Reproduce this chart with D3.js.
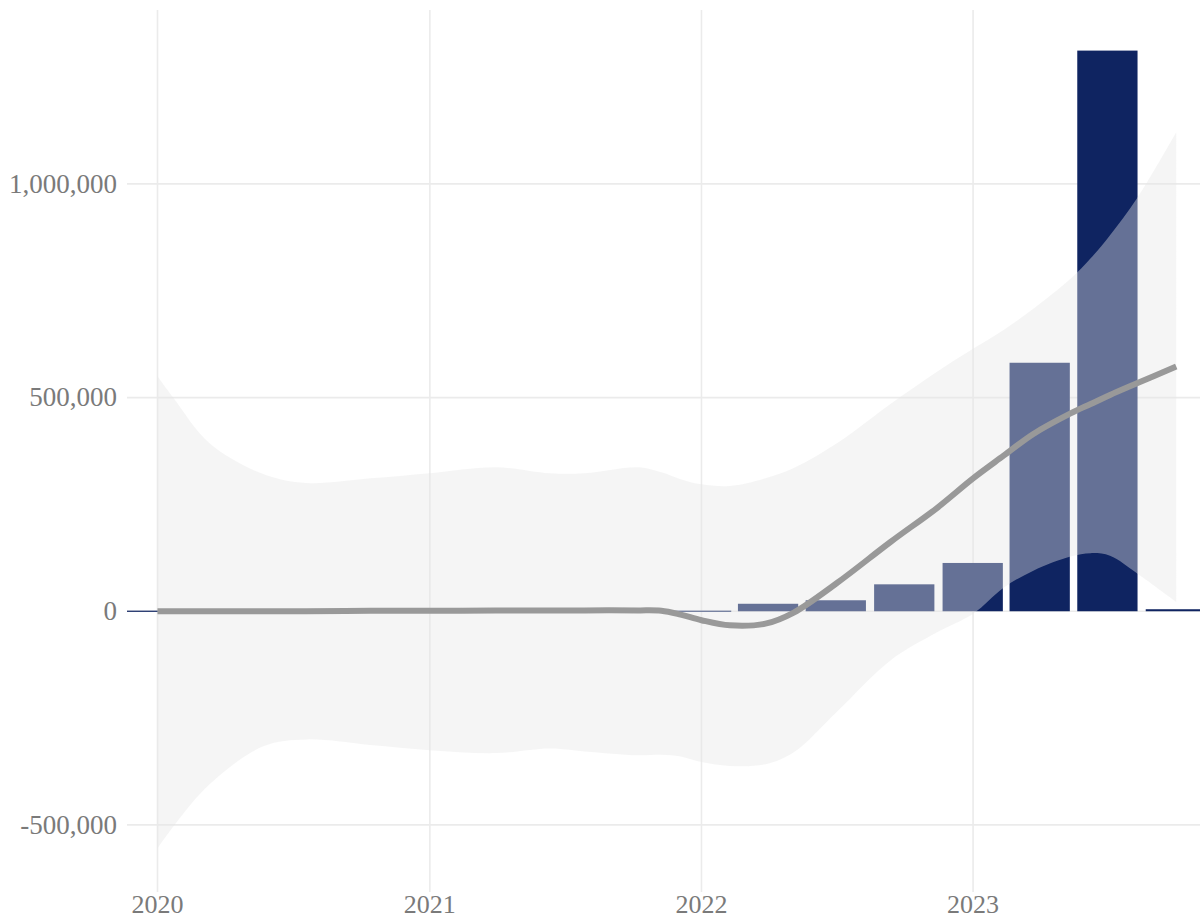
<!DOCTYPE html>
<html>
<head>
<meta charset="utf-8">
<script src="https://cdn.jsdelivr.net/npm/d3@7"></script>
<style>
  body { margin: 0; background: #ffffff; }
  text { font-family: "Liberation Serif", "DejaVu Serif", serif; fill: #7a7a7a; }
</style>
</head>
<body>
<div id="chart"></div>
<script>
// Quarterly totals (bars)
var quarters = ["2020-01-01", "2020-04-01", "2020-07-01", "2020-10-01",
  "2021-01-01", "2021-04-01", "2021-07-01", "2021-10-01",
  "2022-01-01", "2022-04-01", "2022-07-01", "2022-10-01",
  "2023-01-01", "2023-04-01", "2023-07-01", "2023-10-01"];
var totals = [0, 0, 0, 0, 0, 0, 0, 0, 0,
  17500, 25700, 63000, 113000, 581500, 1312000, 4700];

// Smoothed trend with its confidence band
var smoothDates = ["2020-01-01", "2020-01-23", "2020-03-11", "2020-05-22", "2020-07-19",
  "2020-10-13", "2021-01-01", "2021-03-30", "2021-06-11", "2021-07-28", "2021-10-08",
  "2021-11-08", "2021-12-04", "2022-01-01", "2022-02-08", "2022-03-28", "2022-05-05",
  "2022-07-02", "2022-09-12", "2022-11-13", "2023-01-01", "2023-02-11", "2023-03-23",
  "2023-05-12", "2023-06-08", "2023-07-04", "2023-08-10", "2023-10-01"];
var smoothFit = [0, 0, 0, 0, 0, 1000, 1000, 2000, 2000, 2000, 2000,
  1000, -8000, -21000, -33000, -29000, -3000,
  66000, 162000, 241000, 311000, 364000, 415000,
  463000, 485000, 506000, 534000, 573000];
var smoothUpper = [550000, 498000, 393000, 321000, 300000, 311000, 323000, 337000, 323000, 323000, 337000,
  325000, 309000, 297000, 293000, 311000, 335000,
  393000, 485000, 560000, 614000, 658000, 708000,
  778000, 826000, 880000, 968000, 1121000];
var smoothLower = [-555000, -502000, -405000, -316000, -300000, -313000, -325000, -332000, -321000, -328000, -337000,
  -336000, -340000, -353000, -362000, -358000, -330000,
  -235000, -115000, -50000, -6000, 55000, 95000,
  128000, 136000, 130000, 88000, 22000];

// Axis ticks
var xTicks = ["2020-01-01", "2021-01-01", "2022-01-01", "2023-01-01"];
var xTickLabels = ["2020", "2021", "2022", "2023"];
var yTicks = [-500000, 0, 500000, 1000000];

var svgWidth = 1200;
var svgHeight = 919;
var panel = { left: 127, right: 1206, top: 10, bottom: 892 };

var parseDate = d3.timeParse("%Y-%m-%d");
var halfBar = 40.5; // days, 0.9 of the quarterly spacing / 2

var svg = d3.select("#chart")
  .append("svg")
  .attr("width", svgWidth)
  .attr("height", svgHeight);

var xScale = d3.scaleTime()
  .domain([d3.timeDay.offset(parseDate(quarters[0]), -halfBar),
    d3.timeDay.offset(parseDate(quarters[quarters.length - 1]), halfBar)])
  .range([panel.left, panel.right]);

var yScale = d3.scaleLinear()
  .domain([-657000, 1407000])
  .range([panel.bottom, panel.top]);

// Gridlines
svg.append("g")
  .selectAll("line")
  .data(yTicks)
  .enter()
  .append("line")
  .attr("x1", panel.left)
  .attr("x2", panel.right)
  .attr("y1", d => yScale(d))
  .attr("y2", d => yScale(d))
  .attr("stroke", "#ebebeb")
  .attr("stroke-width", 1.6);

svg.append("g")
  .selectAll("line")
  .data(xTicks)
  .enter()
  .append("line")
  .attr("x1", d => xScale(parseDate(d)))
  .attr("x2", d => xScale(parseDate(d)))
  .attr("y1", panel.top)
  .attr("y2", panel.bottom)
  .attr("stroke", "#ebebeb")
  .attr("stroke-width", 1.6);

// Bars
var barData = quarters.map((q, i) => ({ date: parseDate(q), value: totals[i] }));

svg.append("g")
  .selectAll("rect")
  .data(barData)
  .enter()
  .append("rect")
  .attr("x", d => xScale(d3.timeDay.offset(d.date, -halfBar)))
  .attr("width", d => xScale(d3.timeDay.offset(d.date, halfBar)) - xScale(d3.timeDay.offset(d.date, -halfBar)))
  .attr("y", d => yScale(d.value) - (d.value === 0 ? 0.6 : 0))
  .attr("height", d => Math.max(yScale(0) - yScale(d.value), 1.2))
  .attr("fill", "#0f2461");

// Confidence band
var smoothData = smoothDates.map((s, i) => ({
  date: parseDate(s), fit: smoothFit[i], upper: smoothUpper[i], lower: smoothLower[i]
}));

var band = d3.area()
  .x(d => xScale(d.date))
  .y0(d => yScale(d.lower))
  .y1(d => yScale(d.upper))
  .curve(d3.curveCatmullRom.alpha(0.5));

svg.append("path")
  .datum(smoothData)
  .attr("d", band)
  .attr("fill", "#e5e5e5")
  .attr("fill-opacity", 0.4);

// Trend line
var trend = d3.line()
  .x(d => xScale(d.date))
  .y(d => yScale(d.fit))
  .curve(d3.curveCatmullRom.alpha(0.5));

svg.append("path")
  .datum(smoothData)
  .attr("d", trend)
  .attr("fill", "none")
  .attr("stroke", "#999999")
  .attr("stroke-width", 6);

// Axis labels
var yFormat = d => d3.format(",")(d).replace("\u2212", "-");

svg.append("g")
  .selectAll("text")
  .data(yTicks)
  .enter()
  .append("text")
  .attr("x", 117)
  .attr("y", d => yScale(d))
  .attr("dy", "0.33em")
  .attr("text-anchor", "end")
  .style("font-size", "27px")
  .text(yFormat);

svg.append("g")
  .selectAll("text")
  .data(xTicks)
  .enter()
  .append("text")
  .attr("x", d => xScale(parseDate(d)))
  .attr("y", 913)
  .attr("text-anchor", "middle")
  .style("font-size", "26px")
  .text((d, i) => xTickLabels[i]);
</script>
</body>
</html>
